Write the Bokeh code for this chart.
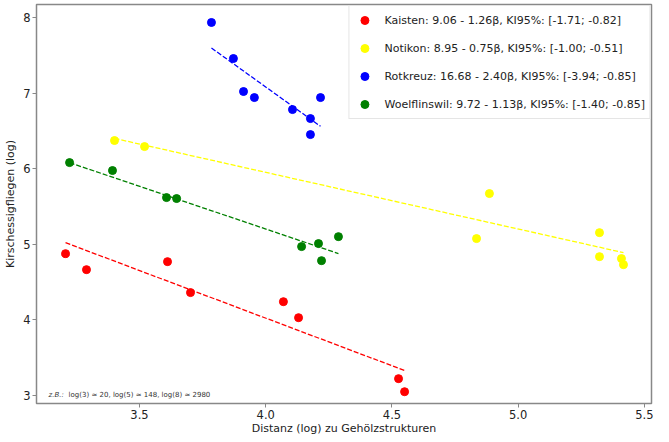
from bokeh.plotting import figure
from bokeh.models import Range1d, FixedTicker, Legend, LegendItem, Label, NumeralTickFormatter
from bokeh.embed import file_html
from bokeh.resources import INLINE

# ---- data ----
sites = ["Kaisten", "Notikon", "Rotkreuz", "Woelflinswil"]
colors = ["red", "yellow", "blue", "green"]

kaisten_x = [3.207, 3.290, 3.611, 3.702, 4.070, 4.130, 4.526, 4.550]
kaisten_y = [4.874, 4.662, 4.768, 4.358, 4.238, 4.026, 3.219, 3.046]

notikon_x = [3.401, 3.520, 4.835, 4.886, 5.322, 5.322, 5.409, 5.417]
notikon_y = [6.371, 6.291, 5.073, 5.669, 5.152, 4.834, 4.808, 4.728]

rotkreuz_x = [3.785, 3.872, 3.912, 3.955, 4.106, 4.177, 4.217, 4.177]
rotkreuz_y = [7.934, 7.457, 7.020, 6.940, 6.781, 6.662, 6.940, 6.450]

woelf_x = [3.223, 3.393, 3.607, 3.647, 4.142, 4.209, 4.221, 4.288]
woelf_y = [6.079, 5.974, 5.616, 5.603, 4.967, 5.007, 4.781, 5.099]

intercepts = [9.06, 8.95, 16.68, 9.72]
slopes = [-1.26, -0.75, -2.40, -1.13]
ci_low = [-1.71, -1.00, -3.94, -1.40]
ci_high = [-0.82, -0.51, -0.85, -0.85]

x_ticks = [3.5, 4.0, 4.5, 5.0, 5.5]
y_ticks = [3, 4, 5, 6, 7, 8]

xs_all = [kaisten_x, notikon_x, rotkreuz_x, woelf_x]
ys_all = [kaisten_y, notikon_y, rotkreuz_y, woelf_y]

FONT = "DejaVu Sans"

p = figure(width=655, height=437, output_backend="svg", toolbar_location=None,
           x_range=Range1d(3.092, 5.528), y_range=Range1d(2.89, 8.172),
           min_border_left=36, min_border_right=4, min_border_top=4, min_border_bottom=30)

p.background_fill_color = "white"
p.border_fill_color = "white"
p.outline_line_color = "#888888"
p.outline_line_width = 1.5
p.xgrid.visible = False
p.ygrid.visible = False

for ax in (p.xaxis[0], p.yaxis[0]):
    ax.axis_line_color = None
    ax.major_tick_in = 0
    ax.major_tick_out = 4
    ax.major_tick_line_color = "#888888"
    ax.minor_tick_line_color = None
    ax.major_label_text_font = FONT
    ax.major_label_text_font_size = "11.5px"
    ax.major_label_text_color = "#222222"
    ax.axis_label_text_font = FONT
    ax.axis_label_text_font_size = "11px"
    ax.axis_label_text_font_style = "normal"
    ax.axis_label_text_color = "#222222"
    ax.major_label_standoff = 2

p.xaxis.ticker = FixedTicker(ticks=x_ticks)
p.yaxis.ticker = FixedTicker(ticks=y_ticks)
p.xaxis.formatter = NumeralTickFormatter(format="0.0")
p.xaxis.axis_label = "Distanz (log) zu Gehölzstrukturen"
p.yaxis.axis_label = "Kirschessigfliegen (log)"
p.xaxis.axis_label_standoff = 0
p.yaxis.axis_label_standoff = 3

items = []
for name, col, xs, ys, a, b, lo, hi in zip(sites, colors, xs_all, ys_all,
                                          intercepts, slopes, ci_low, ci_high):
    x0, x1 = min(xs), max(xs)
    p.line([x0, x1], [a + b * x0, a + b * x1], line_color=col, line_width=1.3,
           line_dash="5 2")
    r = p.scatter(xs, ys, size=8, fill_color=col, line_color=col)
    label = f"{name}: {a:.2f} - {abs(b):.2f}β, KI95%: [{lo:.2f}; {hi:.2f}]"
    items.append(LegendItem(label=label, renderers=[r]))

legend = Legend(items=items, location="top_right")
legend.margin = 1
legend.padding = 4
legend.spacing = 8
legend.label_height = 20
legend.glyph_height = 20
legend.glyph_width = 22
legend.label_standoff = 9
legend.label_text_font = FONT
legend.label_text_font_size = "11px"
legend.label_text_color = "#222222"
legend.border_line_color = "#cccccc"
legend.border_line_width = 1
legend.background_fill_color = "white"
legend.background_fill_alpha = 0.9
p.add_layout(legend, "center")

note1 = Label(x=3.140, y=3.0, text="z.B.:", text_font=FONT, text_font_size="7px",
              text_font_style="italic", text_color="#333333", text_baseline="middle")
note2 = Label(x=3.140, y=3.0, x_offset=20, text="log(3) ≈ 20, log(5) ≈ 148, log(8) ≈ 2980",
              text_font=FONT, text_font_size="7px", text_color="#333333",
              text_baseline="middle")
p.add_layout(note1)
p.add_layout(note2)

open("out.html", "w").write(file_html(p, INLINE))
